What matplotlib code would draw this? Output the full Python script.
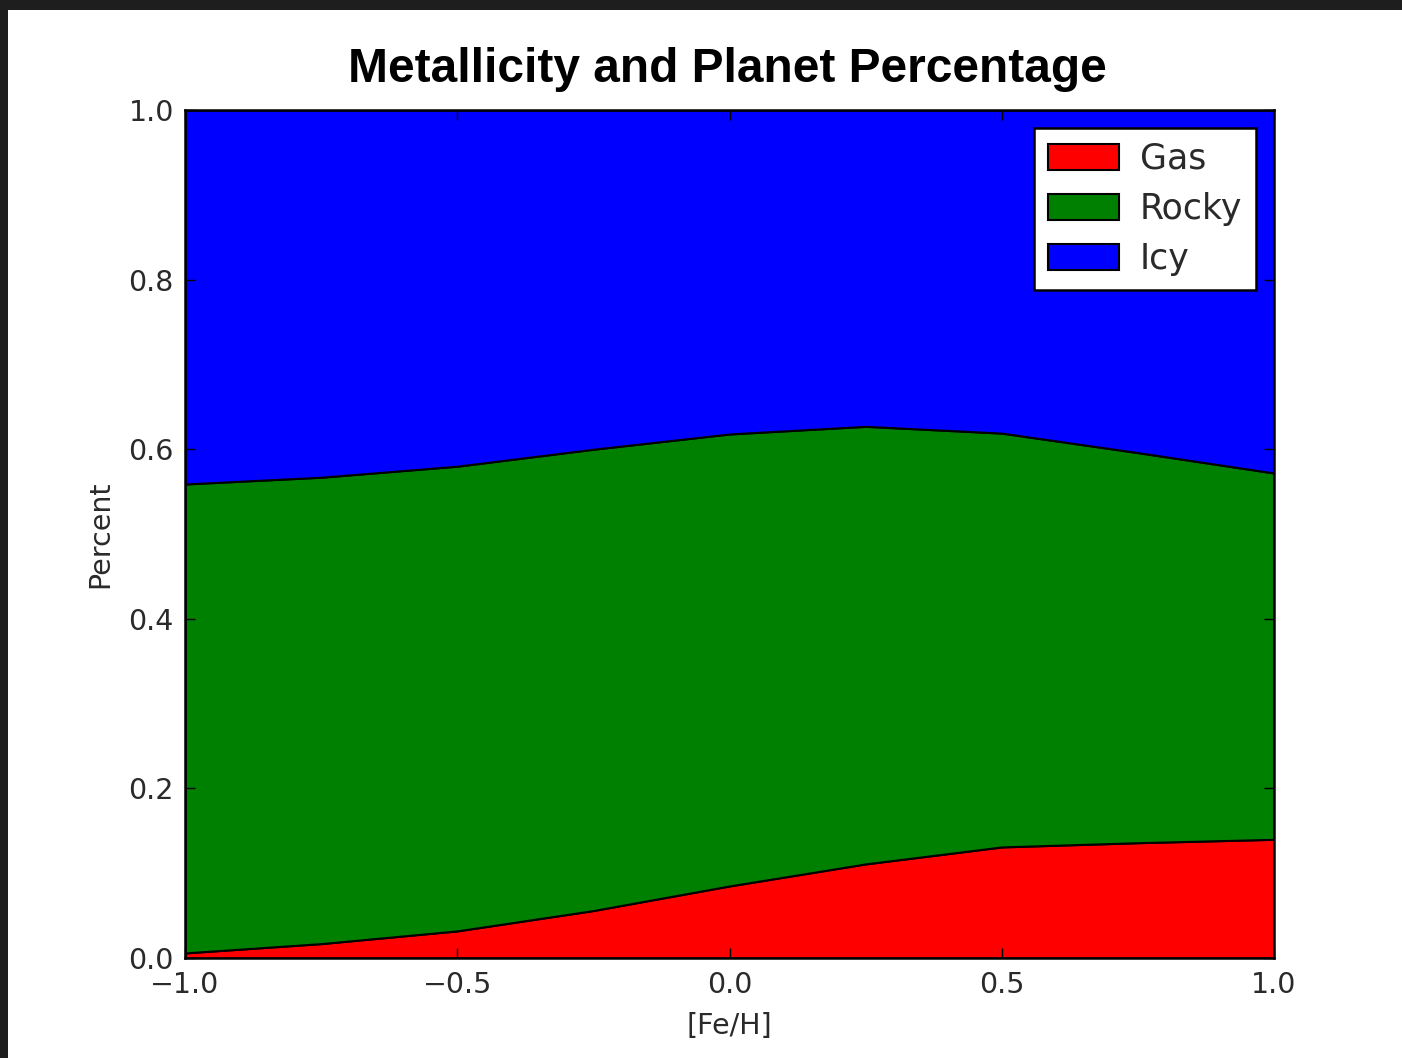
import matplotlib
matplotlib.use("Agg")
import matplotlib.pyplot as plt
from matplotlib.patches import Rectangle
import numpy as np

# metallicity grid and planet fractions per type
feh = [-1.0, -0.75, -0.5, -0.25, 0.0, 0.25, 0.5, 0.75, 1.0]
gas = [0.006, 0.017, 0.032, 0.056, 0.085, 0.111, 0.131, 0.136, 0.140]
rocky = [0.553, 0.550, 0.548, 0.544, 0.533, 0.516, 0.488, 0.460, 0.432]
icy = [0.441, 0.433, 0.420, 0.400, 0.382, 0.373, 0.381, 0.404, 0.428]

labels = ["Gas", "Rocky", "Icy"]
colors = ["#ff0000", "#008000", "#0000ff"]

fig = plt.figure(figsize=(14.02, 10.58), dpi=100)
ax = fig.add_axes([0.132, 0.0945, 0.7767, 0.8015])

ax.stackplot(feh, gas, rocky, icy, colors=colors, edgecolor="black", linewidth=1.5)

ax.set_xlim(-1.0, 1.0)
ax.set_ylim(0.0, 1.0)
ax.set_xticks([-1.0, -0.5, 0.0, 0.5, 1.0])
ax.set_yticks([0.0, 0.2, 0.4, 0.6, 0.8, 1.0])
ax.tick_params(direction="in", top=True, right=True, length=7, width=1,
               labelsize=20.5, labelcolor="#2a2a2a")
ax.tick_params(axis="x", pad=9)
ax.tick_params(axis="y", pad=8)
for s in ax.spines.values():
    s.set_linewidth(1.8)

ax.set_xlabel("[Fe/H]", fontsize=20.5, color="#2a2a2a", labelpad=10)
ax.set_ylabel("Percent", fontsize=20.5, color="#2a2a2a", labelpad=10)

fig.text(0.519, 0.934, "Metallicity and Planet Percentage", ha="center", va="center",
         fontsize=34.5, fontweight="bold", family="Liberation Sans")

handles = [Rectangle((0, 0), 1, 1, facecolor=c, edgecolor="black", linewidth=1.5) for c in colors]
leg = ax.legend(handles, labels, loc="upper right", fontsize=25, fancybox=False,
                framealpha=1, edgecolor="black", handlelength=2.05, handleheight=0.75,
                borderpad=0.4, borderaxespad=0.52, labelspacing=0.46, handletextpad=0.6)
leg.get_frame().set_linewidth(1.8)
for t in leg.get_texts():
    t.set_color("#2a2a2a")

# dark strips along the top and left edges
fig.patches.append(Rectangle((0, 1 - 10 / 1058), 1, 10 / 1058, transform=fig.transFigure,
                             facecolor="#1e1e1e", edgecolor="none", zorder=10))
fig.patches.append(Rectangle((0, 0), 8 / 1402, 1, transform=fig.transFigure,
                             facecolor="#1e1e1e", edgecolor="none", zorder=10))

fig.savefig("out.png", dpi=100)
